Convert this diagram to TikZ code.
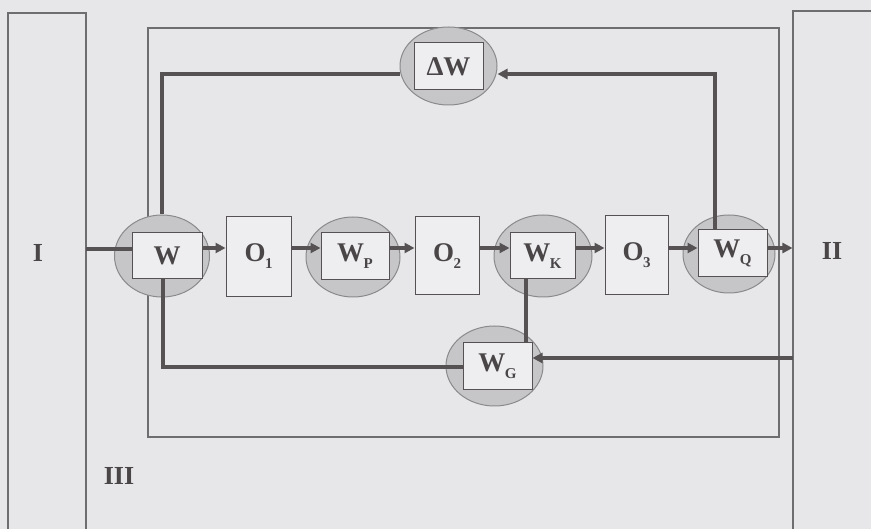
\documentclass[tikz,border=0pt]{standalone}
\usepackage{fontspec}
\setmainfont{Liberation Serif}
\usetikzlibrary{shapes.geometric,arrows.meta}
\definecolor{bg}{HTML}{E7E7E9}
\definecolor{ink}{HTML}{565254}
\definecolor{txt}{HTML}{4A4648}
\definecolor{thin}{HTML}{6E6E70}
\definecolor{ellfill}{HTML}{C6C6C8}
\definecolor{elldraw}{HTML}{8A8A8C}
\definecolor{boxfill}{HTML}{EEEEF0}
\newcommand{\lbl}[2]{#1\kern-0.5pt\raisebox{-7pt}{\fontsize{15}{15}\selectfont #2}}
\tikzset{
  ell/.style={ellipse, fill=ellfill, draw=elldraw, line width=1pt, inner sep=0pt},
  box/.style={rectangle, fill=boxfill, draw=ink, line width=1pt, inner sep=0pt,
    font=\fontsize{27}{27}\selectfont\bfseries, text=txt},
  frame/.style={rectangle, draw=thin, line width=1.1pt, inner sep=0pt},
  flow/.style={draw=ink, line width=3.3pt},
  arr/.style={flow, -{Triangle[length=10pt,width=10pt]}},
  tag/.style={font=\fontsize{26}{26}\selectfont\bfseries, text=txt, inner sep=0pt}
}
\begin{document}
\begin{tikzpicture}[x=1pt,y=-1pt]
\fill[bg] (0,0) rectangle (871,529);
\useasboundingbox (0,0) rectangle (871,529);
\clip (0,0) rectangle (871,529);
% frames
\node[frame, minimum width=78pt, minimum height=547pt] (frI) at (47,286.5) {};
\node[frame, minimum width=631pt, minimum height=409pt] (frM) at (463.5,232.5) {};
\node[frame, minimum width=120pt, minimum height=549pt] (frII) at (853,285.5) {};
% labels
\node[tag] (tI) at (38,253) {I};
\node[tag] (tII) at (832,251) {II};
\node[tag] (tIII) at (119,476) {III};
% ellipses
\node[ell, minimum width=95pt, minimum height=82pt] (eW) at (162,256) {};
\node[ell, minimum width=94pt, minimum height=80pt] (eWp) at (353,257) {};
\node[ell, minimum width=98pt, minimum height=82pt] (eWk) at (543,256) {};
\node[ell, minimum width=92pt, minimum height=78pt] (eWq) at (729,254) {};
\node[ell, minimum width=97pt, minimum height=78pt] (edW) at (448.5,66) {};
\node[ell, minimum width=97pt, minimum height=80pt] (eWG) at (494.5,366) {};
% coordinates
\coordinate (inI) at (86,249);
\coordinate (topR) at (715,74);
\coordinate (gin) at (793,358);
\coordinate (lowL) at (163,367);
% boxes
\node[box, minimum width=70pt, minimum height=46pt] (W) at (167,256) {W};
\node[box, minimum width=65pt, minimum height=80pt] (O1) at (258.5,256.5) {\lbl{O}{1}};
\node[box, minimum width=68pt, minimum height=47pt] (Wp) at (355,256) {\lbl{W}{P}};
\node[box, minimum width=64pt, minimum height=78pt] (O2) at (447,256) {\lbl{O}{2}};
\node[box, minimum width=65pt, minimum height=46pt] (Wk) at (542.5,256) {\lbl{W}{K}};
\node[box, minimum width=63pt, minimum height=79pt] (O3) at (636.5,255.5) {\lbl{O}{3}};
\node[box, minimum width=69pt, minimum height=47pt] (Wq) at (732.5,253.5) {\lbl{W}{Q}};
\node[box, minimum width=69pt, minimum height=47pt] (dW) at (448.5,66.5) {ΔW};
\node[box, minimum width=69pt, minimum height=47pt] (WG) at (497.5,366.5) {\lbl{W}{G}};
% main flow
\draw[flow] (inI) -- (inI -| W.west);
\draw[arr] ([yshift=8pt]W.east) -- ([yshift=8pt]W.east -| O1.west);
\draw[arr] ([yshift=8pt]W.east -| O1.east) -- ([yshift=8pt]W.east -| Wp.west);
\draw[arr] ([yshift=8pt]W.east -| Wp.east) -- ([yshift=8pt]W.east -| O2.west);
\draw[arr] ([yshift=8pt]W.east -| O2.east) -- ([yshift=8pt]W.east -| Wk.west);
\draw[arr] ([yshift=8pt]W.east -| Wk.east) -- ([yshift=8pt]W.east -| O3.west);
\draw[arr] ([yshift=8pt]W.east -| O3.east) -- ([yshift=8pt]W.east -| Wq.west);
\draw[arr] ([yshift=8pt]W.east -| Wq.east) -- ([yshift=8pt]W.east -| frII.west);
% top feedback
\draw[arr] (Wq.north -| topR) -- (topR) -- (topR -| edW.east);
\draw[flow] (topR -| edW.west) -| (eW.north);
% bottom feedback
\draw[arr] (gin) -- (gin -| WG.east);
\draw[flow] ([xshift=-16.5pt]Wk.south) -- ([xshift=-16.5pt]Wk.south |- WG.north);
\draw[flow] (lowL -| WG.west) -- (lowL) -- (lowL |- W.south);
\end{tikzpicture}
\end{document}
